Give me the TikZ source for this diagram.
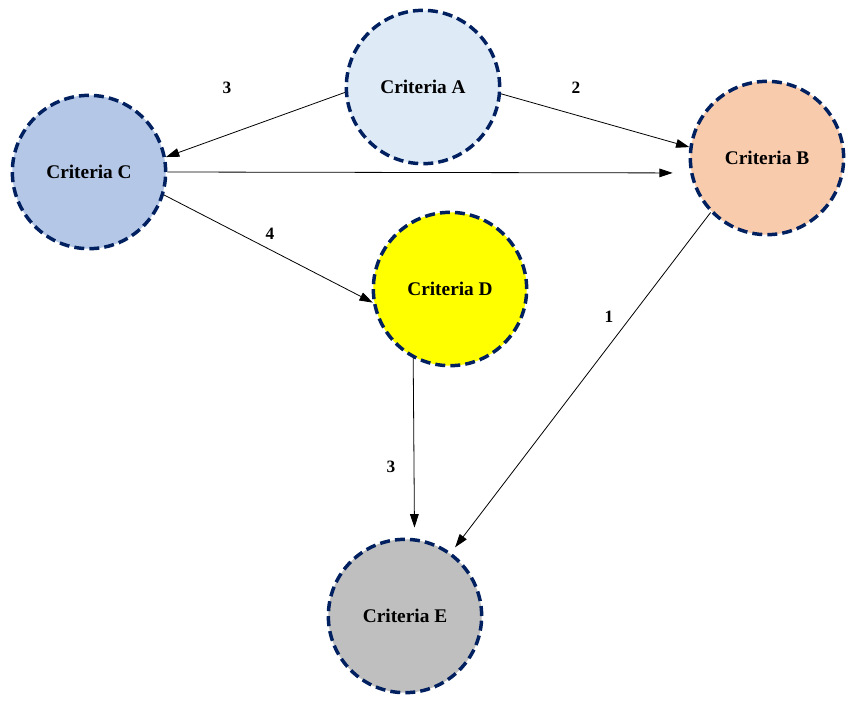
\documentclass[tikz,border=0pt]{standalone}
\usepackage{fontspec}
\setmainfont{Liberation Serif}
\usetikzlibrary{arrows.meta}
\definecolor{rim}{HTML}{002060}
\definecolor{fillA}{HTML}{DEEAF6}
\definecolor{fillB}{HTML}{F8CBAD}
\definecolor{fillC}{HTML}{B4C7E7}
\definecolor{fillD}{HTML}{FFFF00}
\definecolor{fillE}{HTML}{BFBFBF}
\tikzset{
  crit/.style={circle, draw=rim, line width=2.6pt, dash pattern=on 7.5pt off 3.8pt,
    minimum size=115pt, inner sep=0pt, font=\fontsize{14.5}{17}\selectfont\bfseries},
  lbl/.style={font=\fontsize{13}{16}\selectfont\bfseries},
  edge/.style={line width=0.6pt, -{Triangle[length=10pt,width=6.5pt]}}
}
\begin{document}
\begin{tikzpicture}[x=0.75pt,y=-0.75pt]
    \useasboundingbox (0,0) rectangle (851,708);

    \node[crit, fill=fillA] (A) at (423,87) {Criteria A};
    \node[crit, fill=fillB] (B) at (767,158) {Criteria B};
    \node[crit, fill=fillC] (C) at (89,172) {Criteria C};
    \node[crit, fill=fillD] (D) at (450,289) {Criteria D};
    \node[crit, fill=fillE] (E) at (405,616) {Criteria E};

    \draw[edge] (A.184) -- (C.11);
    \draw[edge] (A.355) -- (B.172);
    \draw[edge, shorten >=13pt] (C.0) -- (B.191);
    \draw[edge] (C.343) -- (D.190);
    \draw[edge, shorten >=8pt] (D.242) -- (E.83);
    \draw[edge, shorten >=5pt] (B.224) -- (E.54);

    \node[lbl] (lAC) at (227,88) {3};
    \node[lbl] (lAB) at (576,88) {2};
    \node[lbl] (lCD) at (270,234) {4};
    \node[lbl] (lBE) at (609,317) {1};
    \node[lbl] (lDE) at (391,467) {3};
\end{tikzpicture}
\end{document}
